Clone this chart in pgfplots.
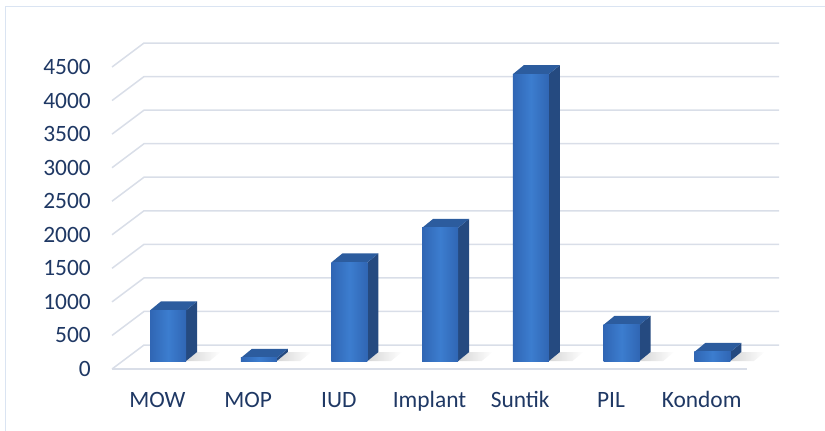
\documentclass[border=0pt]{standalone}
\usepackage{pgfplots}
\pgfplotsset{compat=1.18}
\usepackage{pgfplotstable}
\usepackage{fontspec}
\setmainfont{Carlito}
\definecolor{gridc}{RGB}{217,222,232}
\definecolor{borderc}{RGB}{218,228,242}
\definecolor{labc}{RGB}{31,56,100}
\definecolor{frontd}{RGB}{48,102,180}
\definecolor{frontl}{RGB}{60,125,207}
\definecolor{sidec}{RGB}{37,74,128}
\definecolor{topc}{RGB}{44,92,158}

\pgfplotstableread{
x v
0 755
1 45
2 1470
3 1985
4 4275
5 540
6 135
}\data

\begin{document}
\begin{tikzpicture}
\path[use as bounding box] (-122.7bp,-70bp) rectangle (702.3bp,361bp);
\draw[borderc, line width=1.3bp] (-117.2bp,-70bp) -- (-117.2bp,354.5bp) -- (702.3bp,354.5bp);
\begin{axis}[
  at={(0,0)}, anchor=south west,
  scale only axis, width=635bp, height=302bp,
  xmin=-0.5, xmax=6.5, ymin=0, ymax=4500,
  clip=false,
  axis line style={draw=none},
  major tick length=0pt,
  xtick={0,...,6},
  xticklabels={MOW,MOP,IUD,Implant,Suntik,PIL,Kondom},
  ytick={0,500,...,4500},
  /pgf/number format/1000 sep={},
  /pgf/number format/assume math mode=true,
  tick label style={font=\fontsize{23.5}{28}\selectfont, text=labc},
  yticklabel style={anchor=east, inner sep=0pt, xshift=-31.7bp, yshift=-8bp},
  xticklabel style={anchor=base, inner sep=0pt, xshift=-10.67bp, yshift=-46bp},
]
% floor and walls
\pgfplotsinvokeforeach{0,500,...,4500}{
  \draw[gridc, line width=1.5bp] ([xshift=-10.67bp,yshift=-8bp]axis cs:-0.5,#1) -- ([xshift=21.33bp,yshift=16bp]axis cs:-0.5,#1) -- ([xshift=21.33bp,yshift=16bp]axis cs:6.5,#1);
}
\draw[gridc, line width=1.5bp] ([xshift=-10.67bp,yshift=-8bp]axis cs:-0.5,0) -- ([xshift=-10.67bp,yshift=-8bp]axis cs:6.5,0);
% bars: shadow, side, top and front faces
\pgfplotsinvokeforeach{0,...,6}{
  \pgfplotstablegetelem{#1}{v}\of\data
  \pgfmathsetmacro\vv{\pgfplotsretval}
  \pgfmathsetmacro\vt{\pgfplotsretval+134.1}
  \pgfmathsetmacro\xa{#1-0.19843}
  \pgfmathsetmacro\xb{#1+0.19843}
  \pgfmathsetmacro\xc{#1+0.19843+0.12126}
  \pgfmathsetmacro\xd{#1-0.19843+0.12126}
  \pgfmathsetmacro\xe{#1+0.19843+0.26}
  \pgfmathsetmacro\xf{#1+0.19843+0.12126+0.26}
  \addplot[draw=none, left color=black!16, right color=white, forget plot] coordinates {(\xb,0) (\xe,0) (\xf,134.1) (\xc,134.1)};
  \addplot[fill=sidec, draw=none, forget plot] coordinates {(\xb,0) (\xc,134.1) (\xc,\vt) (\xb,\vv)};
  \addplot[fill=topc, draw=none, forget plot] coordinates {(\xa,\vv) (\xb,\vv) (\xc,\vt) (\xd,\vt)};
  \addplot[draw=none, left color=frontd, right color=frontd, middle color=frontl, forget plot] coordinates {(\xa,0) (\xb,0) (\xb,\vv) (\xa,\vv)};
}
\end{axis}
\end{tikzpicture}
\end{document}
